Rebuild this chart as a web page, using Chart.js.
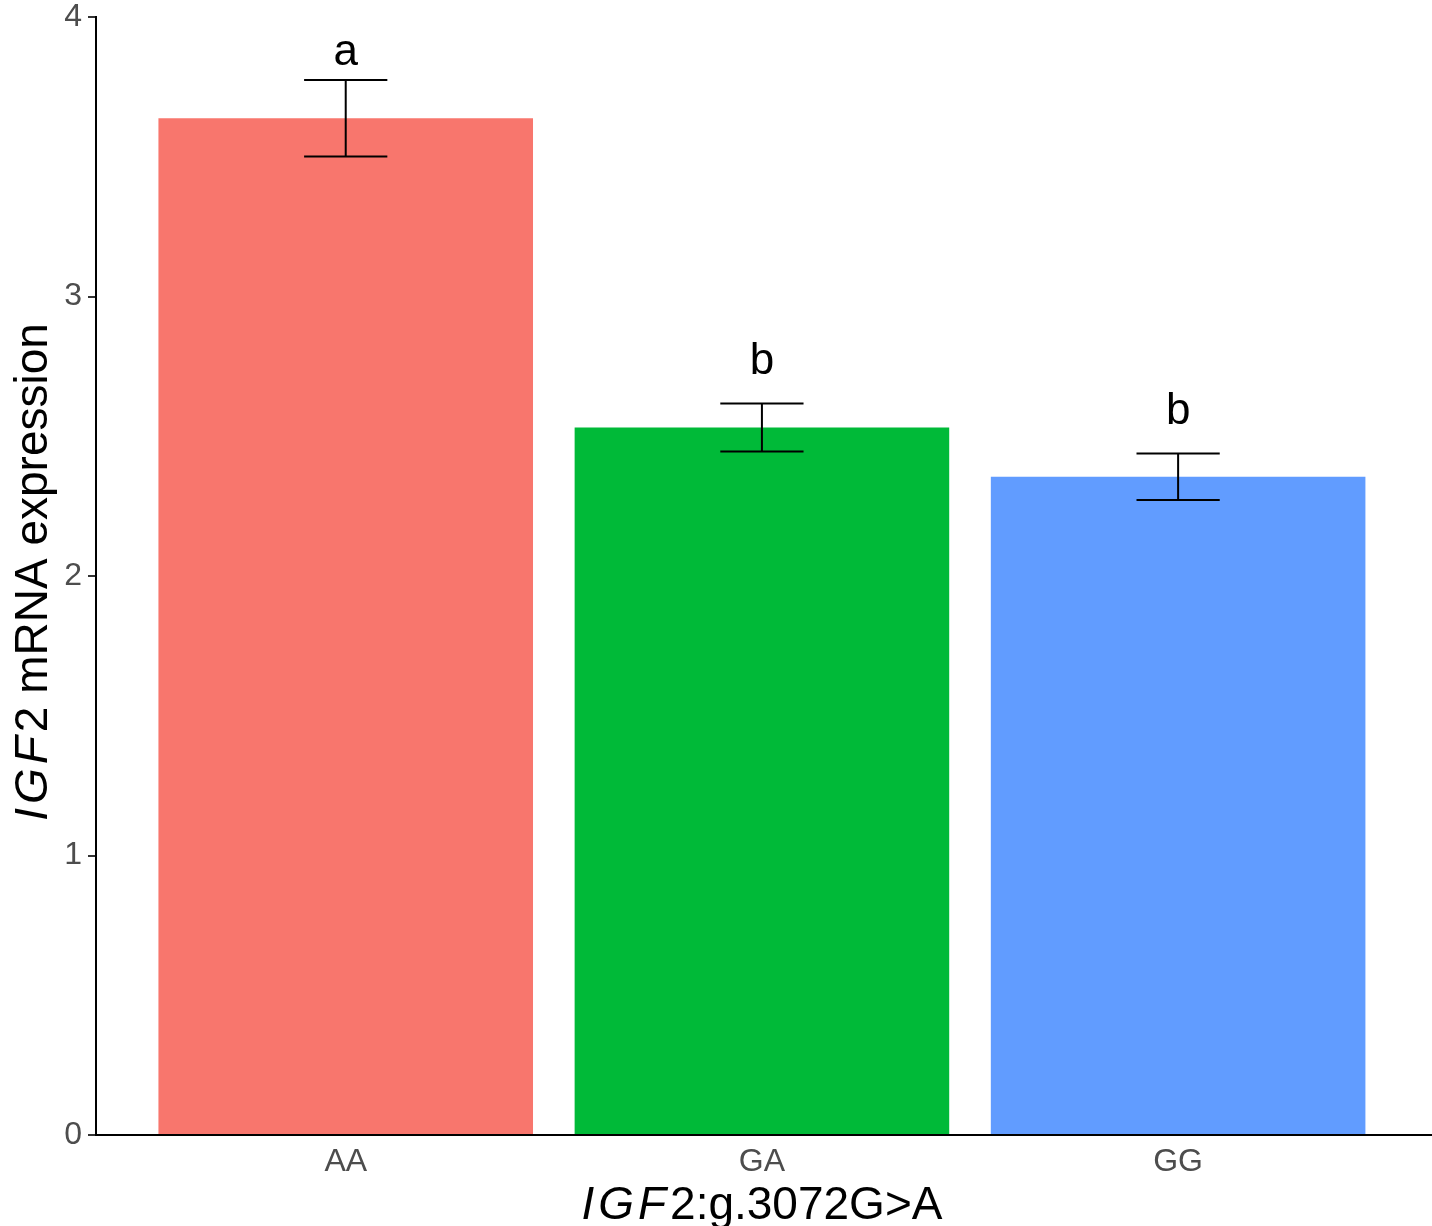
<!DOCTYPE html>
<html>
<head>
<meta charset="utf-8">
<title>IGF2 mRNA expression by genotype</title>
<script src="https://cdn.jsdelivr.net/npm/chart.js@4/dist/chart.umd.min.js"></script>
<style>
  html, body { margin: 0; padding: 0; background: #ffffff; }
  #wrap { width: 1432px; height: 1226px; }
</style>
</head>
<body>
<div id="wrap"><canvas id="chart" width="1432" height="1226"></canvas></div>
<script>
// Genotypes of IGF2:g.3072G>A and their mean relative expression (± SE)
const genotypes = ['AA', 'GA', 'GG'];
const meanExpression = [3.638, 2.531, 2.355];
const standardError = [0.137, 0.086, 0.083];
const groupLetters = ['a', 'b', 'b'];
const yTicks = [0, 1, 2, 3, 4];
const barColors = ['#F8766D', '#00BA38', '#619CFF'];

const FONT = '"Liberation Sans", Arial, Helvetica, sans-serif';
const TITLE_SIZE = 46;

// Error bars with caps plus significance letters above each bar
const errorBarPlugin = {
  id: 'errorBars',
  afterDatasetsDraw(chart) {
    const { ctx, scales: { x, y } } = chart;
    const halfCap = 0.1; // cap half-width in category units
    ctx.save();
    ctx.strokeStyle = '#000000';
    ctx.lineWidth = 2;
    genotypes.forEach((g, i) => {
      const cx = x.getPixelForValue(i);
      const top = y.getPixelForValue(meanExpression[i] + standardError[i]);
      const bot = y.getPixelForValue(meanExpression[i] - standardError[i]);
      const l = x.getPixelForValue(i - halfCap);
      const r = x.getPixelForValue(i + halfCap);
      ctx.beginPath();
      ctx.moveTo(cx, top); ctx.lineTo(cx, bot);
      ctx.moveTo(l, top); ctx.lineTo(r, top);
      ctx.moveTo(l, bot); ctx.lineTo(r, bot);
      ctx.stroke();
    });
    ctx.fillStyle = '#000000';
    ctx.font = '44px ' + FONT;
    ctx.textAlign = 'center';
    ctx.textBaseline = 'alphabetic';
    genotypes.forEach((g, i) => {
      const cx = x.getPixelForValue(i);
      const by = y.getPixelForValue(meanExpression[i] + 0.19);
      ctx.fillText(groupLetters[i], cx, by);
    });
    ctx.restore();
  }
};

// Axis titles with the italic gene symbol
function drawMixed(ctx, parts, x, y) {
  const fontOf = p => (p.italic ? 'italic ' : '') + TITLE_SIZE + 'px ' + FONT;
  const widths = parts.map(p => {
    ctx.font = fontOf(p);
    return ctx.measureText(p.text).width + (p.spacing || 0) * p.text.length;
  });
  const total = widths.reduce((a, b) => a + b, 0);
  let cx = x - total / 2;
  parts.forEach((p, k) => {
    ctx.font = fontOf(p);
    if (p.spacing) {
      for (const ch of p.text) {
        ctx.fillText(ch, cx, y);
        cx += ctx.measureText(ch).width + p.spacing;
      }
    } else {
      ctx.fillText(p.text, cx, y);
      cx += widths[k];
    }
  });
}

const axisTitlePlugin = {
  id: 'axisTitles',
  afterDraw(chart) {
    const { ctx, chartArea } = chart;
    ctx.save();
    ctx.fillStyle = '#000000';
    ctx.textAlign = 'left';
    ctx.textBaseline = 'alphabetic';
    const midX = (chart.scales.x.getPixelForValue(-0.6) + chart.scales.x.getPixelForValue(2.6)) / 2;
    drawMixed(ctx, [
      { text: 'IGF', italic: true, spacing: 4 },
      { text: '2:g.3072G>A', italic: false }
    ], midX, 1219);
    ctx.translate(47, (chartArea.top + chartArea.bottom) / 2 - 4);
    ctx.rotate(-Math.PI / 2);
    drawMixed(ctx, [
      { text: 'IGF', italic: true, spacing: 4 },
      { text: '2 mRNA expression', italic: false }
    ], 0, 0);
    ctx.restore();
  }
};

new Chart(document.getElementById('chart'), {
  type: 'bar',
  data: {
    datasets: [{
      data: genotypes.map((g, i) => ({ x: i, y: meanExpression[i] })),
      backgroundColor: barColors,
      borderWidth: 0,
      barPercentage: 0.9,
      categoryPercentage: 1.0
    }]
  },
  options: {
    responsive: false,
    animation: false,
    devicePixelRatio: 1,
    layout: { padding: { top: 17, right: 0, bottom: 0, left: 0 } },
    plugins: {
      legend: { display: false },
      tooltip: { enabled: false }
    },
    scales: {
      x: {
        type: 'linear',
        offset: false,
        min: -0.6,
        max: 2.61,
        afterBuildTicks(scale) {
          scale.ticks = genotypes.map((g, i) => ({ value: i }));
        },
        afterFit(scale) { scale.height = 91; },
        grid: { display: false, drawTicks: false },
        border: { display: true, color: '#000000', width: 2 },
        ticks: {
          callback: (v) => genotypes[v],
          color: '#4D4D4D',
          font: { family: FONT, size: 32 },
          padding: 8,
          maxRotation: 0,
          autoSkip: false
        }
      },
      y: {
        min: 0,
        max: 4,
        afterBuildTicks(scale) {
          scale.ticks = yTicks.map(v => ({ value: v }));
        },
        afterFit(scale) {
          scale.width = 96;
          scale.paddingTop = 0;
          scale.paddingBottom = 0;
        },
        grid: {
          display: true,
          drawOnChartArea: false,
          drawTicks: true,
          tickLength: 8,
          color: '#333333',
          lineWidth: 2
        },
        border: { display: true, color: '#000000', width: 2 },
        ticks: {
          color: '#4D4D4D',
          font: { family: FONT, size: 32, lineHeight: 1 },
          padding: 6
        }
      }
    }
  },
  plugins: [errorBarPlugin, axisTitlePlugin]
});
</script>
</body>
</html>
